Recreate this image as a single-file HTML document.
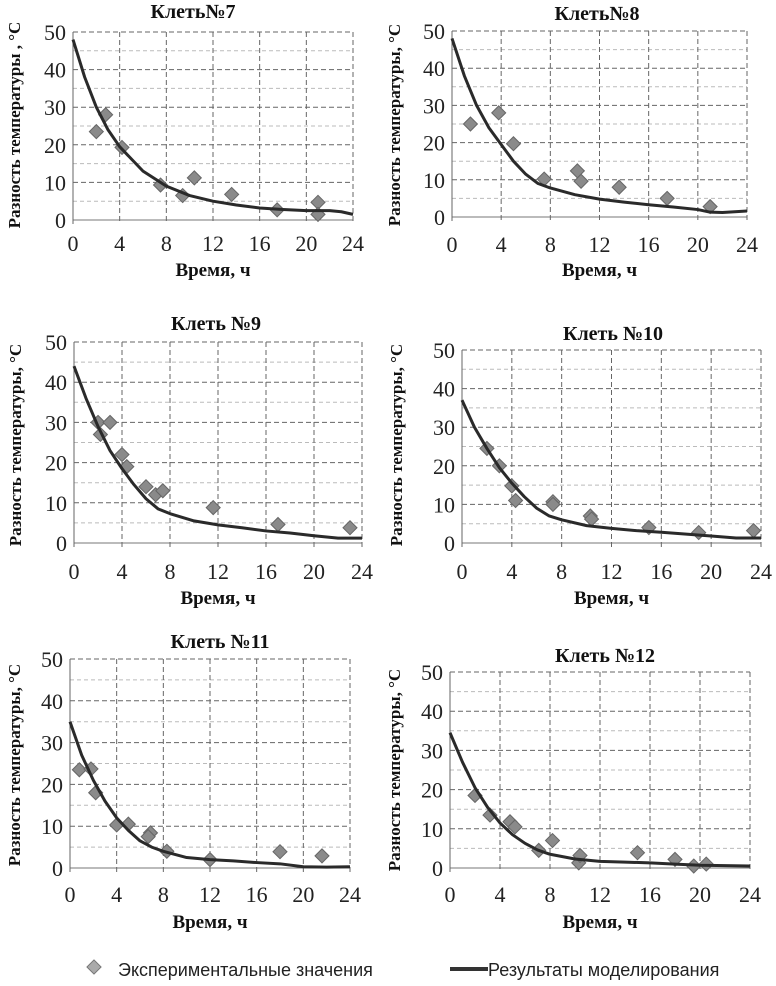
<!DOCTYPE html>
<html><head><meta charset="utf-8">
<style>
html,body{margin:0;padding:0;background:#fff;}
svg{display:block;}
</style></head>
<body>
<svg id="fig" width="776" height="986" viewBox="0 0 776 986" xmlns="http://www.w3.org/2000/svg">
 <g>
  <rect x="89" y="962" width="10" height="10" transform="rotate(45 94 967)" fill="#aaa" stroke="#777"/>
  <text x="118" y="976" font-family="'Liberation Sans',sans-serif" font-size="18" fill="#222">Экспериментальные значения</text>
  <line x1="450" y1="969" x2="488" y2="969" stroke="#333" stroke-width="4"/>
  <text x="488" y="976" font-family="'Liberation Sans',sans-serif" font-size="18" fill="#222">Результаты моделирования</text>
 </g>
</svg>
<script>
// ---- data ----
const xTicks = [0,4,8,12,16,20,24];
const yTicks = [0,10,20,30,40,50];
const titles = ["Клеть№7","Клеть№8","Клеть №9","Клеть №10","Клеть №11","Клеть №12"];

const c7t = [0,1,2,3,4,6,8,10,12,14,16,18,20,22,23,24];
const c7v = [48,38,30,24,19.5,13,9,6.5,5,4,3.2,2.8,2.5,2.5,2.2,1.5];
const p7t = [2,2.8,4.2,7.5,9.4,10.4,13.6,17.5,21,21];
const p7v = [23.5,28,19.3,9.3,6.5,11.2,6.8,2.7,4.7,1.5];

const c8t = [0,1,2,3,4,5,6,7,8,10,12,14,16,18,20,21,22,24];
const c8v = [48,38,30,24,19.5,15,11.5,9,7.8,6,4.8,4,3.3,2.7,2,1.3,1.2,1.6];
const p8t = [1.5,3.8,5,7.5,10.2,10.5,13.6,17.5,21];
const p8v = [25,28,19.7,10.2,12.4,9.6,8,5,2.8];

const c9t = [0,1,2,3,4,5,6,7,8,10,12,14,16,18,20,22,24];
const c9v = [44,36,29,23,18.5,14.5,11,8.5,7.3,5.5,4.5,3.8,3,2.5,1.8,1.2,1.2];
const p9t = [2,2.2,3,4,4.4,6,6.8,7.4,11.6,17,23];
const p9v = [30,27,30,22,19,14,12,13,8.8,4.6,3.8];

const c10t = [0,1,2,3,4,5,6,7,8,10,12,14,16,18,20,22,24];
const c10v = [37,30,24.5,19.5,15.5,12,9,7,6,4.5,3.8,3.2,2.8,2.3,1.8,1.3,1.3];
const p10t = [2,3,4,4.3,7.3,7.3,10.3,10.4,15,19,23.4];
const p10v = [24.5,20,14.8,11,10.7,10,7,6.2,4,2.7,3.2];

const c11t = [0,1,2,3,4,5,6,7,8,10,12,14,16,18,20,22,24];
const c11v = [35,27,21,16,12,9,6.5,5,4,2.5,2,1.7,1.3,1,0.3,0.2,0.3];
const p11t = [0.8,1.8,2.2,4,5,6.9,6.7,8.3,12,18,21.6];
const p11v = [23.5,23.7,18,10.3,10.5,8.4,7.5,4,2,3.9,2.9];

const c12t = [0,1,2,3,4,5,6,7,8,10,12,14,16,18,20,22,24];
const c12v = [34.5,27,20.5,15.5,11.5,8.5,6.3,4.6,3.5,2.3,1.7,1.5,1.3,1,0.7,0.6,0.5];
const p12t = [2,3.2,4.8,5.2,7.1,8.2,10.3,10.4,15,18,19.5,20.5];
const p12v = [18.5,13.5,11.8,10.5,4.5,7,1.3,3.2,3.9,2.2,0.5,1];

// ---- layout ----
const panels = [
 {x0:73,x1:353,y50:32,y0:220,title:[193,18],xl:251,xt:276,yt:[14,125],ct:c7t,cv:c7v,pt:p7t,pv:p7v},
 {x0:452,x1:747,y50:31,y0:217,title:[597,20],xl:252,xt:276,yt:[394,125],ct:c8t,cv:c8v,pt:p8t,pv:p8v},
 {x0:74,x1:362,y50:342,y0:543,title:[216,330],xl:579,xt:604,yt:[15,445],ct:c9t,cv:c9v,pt:p9t,pv:p9v},
 {x0:462,x1:761,y50:350,y0:543,title:[613,340],xl:579,xt:604,yt:[396,445],ct:c10t,cv:c10v,pt:p10t,pv:p10v},
 {x0:70,x1:350,y50:659,y0:868,title:[220,648],xl:902,xt:928,yt:[14,765],ct:c11t,cv:c11v,pt:p11t,pv:p11v},
 {x0:450,x1:750,y50:672,y0:868,title:[605,662],xl:902,xt:928,yt:[394,770],ct:c12t,cv:c12v,pt:p12t,pv:p12v}
];
const NS="http://www.w3.org/2000/svg";
const svg=document.getElementById('fig');
function mk(tag,attrs,parent){const e=document.createElementNS(NS,tag);for(const k in attrs)e.setAttribute(k,attrs[k]);parent.appendChild(e);return e;}
panels.forEach((p,i)=>{
 const sx=t=>p.x0+(p.x1-p.x0)*t/24;
 const sy=v=>p.y0-(p.y0-p.y50)*v/50;
 const g=mk('g',{},svg);
 
 
 for(let v=5;v<50;v+=10){const l=mk('line',{x1:p.x0,x2:p.x1,y1:sy(v),y2:sy(v),stroke:'#bbb','stroke-width':1,'stroke-dasharray':'4,3'},g);
  
  }
 yTicks.forEach(v=>{const l=mk('line',{x1:p.x0,x2:p.x1,y1:sy(v),y2:sy(v),stroke:v===0?'#777':'#666','stroke-width':1,'stroke-dasharray':v===0?'none':'5,3'},g);
  
  
  const t=mk('text',{x:p.x0-7,y:sy(v)+8,'text-anchor':'end','font-family':"'Liberation Serif',serif",'font-size':22,fill:'#222'},g);t.textContent=v;
  
  });
 xTicks.forEach(x=>{const l=mk('line',{x1:sx(x),x2:sx(x),y1:p.y50,y2:p.y0+4,stroke:'#666','stroke-width':1,'stroke-dasharray':x===0?'none':'5,3'},g);
  
  
  const t=mk('text',{x:sx(x),y:p.xl,'text-anchor':'middle','font-family':"'Liberation Serif',serif",'font-size':22,fill:'#222'},g);t.textContent=x;
  
  });
 const tt=mk('text',{x:p.title[0],y:p.title[1],'text-anchor':'middle','font-family':"'Liberation Serif',serif",'font-size':20,'font-weight':'bold',fill:'#111'},g);tt.textContent=titles[i];
 
 
 const xt=mk('text',{x:(p.x0+p.x1)/2,y:p.xt,'text-anchor':'middle','font-family':"'Liberation Serif',serif",'font-size':19,'font-weight':'bold',fill:'#111'},g);xt.textContent='Время, ч';
 
 
 const yt=mk('text',{x:0,y:0,transform:`translate(${p.yt[0]+6},${p.yt[1]}) rotate(-90)`,'text-anchor':'middle','font-family':"'Liberation Serif',serif",'font-size':17,'font-weight':'bold',fill:'#111'},g);yt.textContent=i===0?'Разность температуры , °С':'Разность температуры, °С';
 
 
 p.pt.forEach((t,j)=>{const cx=sx(t),cy=sy(p.pv[j]);
  const d=mk('path',{d:`M${cx},${cy-7}L${cx+7},${cy}L${cx},${cy+7}L${cx-7},${cy}Z`,fill:'#8a8a8a',stroke:'#666','stroke-width':1},g);
  
  });
 const pts=p.ct.map((t,j)=>sx(t)+','+sy(p.cv[j])).join(' ');
 const c=mk('polyline',{points:pts,fill:'none',stroke:'#2a2a2a','stroke-width':3,'stroke-linejoin':'round'},g);
 
 
});
</script>
</body></html>
